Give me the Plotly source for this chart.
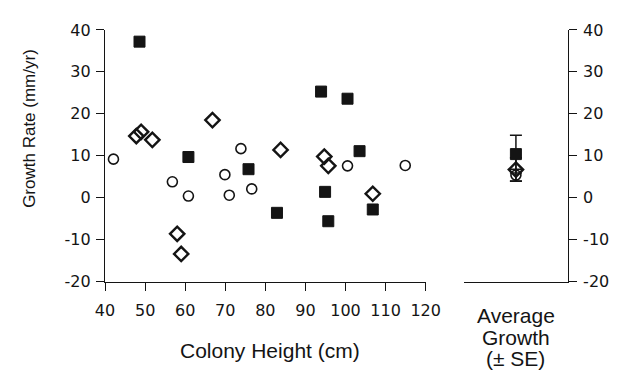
import plotly.graph_objects as go

# Data
sq_x = [48.6, 60.8, 75.8, 93.9, 82.9, 94.9, 95.7, 100.5, 103.5, 106.8]
sq_y = [37.2, 9.7, 6.8, 25.3, -3.6, 1.4, -5.6, 23.6, 11.1, -2.8]

di_x = [47.8, 49.0, 51.8, 66.8, 58.0, 59.0, 83.8, 94.7, 95.7, 106.8]
di_y = [14.7, 15.7, 13.8, 18.5, -8.6, -13.4, 11.4, 9.8, 7.6, 0.95]

ci_x = [42.1, 56.8, 60.8, 73.9, 69.9, 71.0, 76.6, 100.5, 114.9]
ci_y = [9.2, 3.8, 0.4, 11.7, 5.5, 0.6, 2.1, 7.6, 7.7]

avg_groups = ["circle", "diamond", "square"]
avg_mean = [5.4, 6.7, 10.4]
avg_se = [1.4, 2.8, 4.5]

x_ticks = [40, 50, 60, 70, 80, 90, 100, 110, 120]
y_ticks = [-20, -10, 0, 10, 20, 30, 40]
y_ticktext = ["-20", "-10", "0", "10", "20", "30", "40"]

INK = "#141414"
FONT = "Liberation Sans, Arial, sans-serif"
TICKFONT = "DejaVu Sans, sans-serif"
W, H = 625, 380

fig = go.Figure()

sym = {"circle": ("circle-open", 10, 1.6), "diamond": ("diamond-open", 11, 2.4), "square": ("square", 11, 1)}

for xs, ys, g in [(ci_x, ci_y, "circle"), (di_x, di_y, "diamond"), (sq_x, sq_y, "square")]:
    symbol, size, lw = sym[g]
    fig.add_trace(go.Scatter(x=xs, y=ys, mode="markers",
                             marker=dict(symbol=symbol, size=size, color=INK, line=dict(width=lw, color=INK)),
                             cliponaxis=False, showlegend=False))

for g, m, s in zip(avg_groups, avg_mean, avg_se):
    symbol, size, lw = sym[g]
    fig.add_trace(go.Scatter(x=[0.5], y=[m], mode="markers", xaxis="x2", yaxis="y2",
                             marker=dict(symbol=symbol, size=size, color=INK, line=dict(width=lw, color=INK)),
                             error_y=dict(type="data", array=[s], color=INK, thickness=1.5, width=6),
                             cliponaxis=False, showlegend=False))

x0, x1 = 99 / W, 433 / W
y0, y1 = 1 - 287 / H, 1 - 22 / H
axis_common = dict(showline=True, linecolor=INK, linewidth=1.3, ticks="outside", ticklen=8,
                   tickwidth=1.3, tickcolor=INK, showgrid=False, zeroline=False,
                   tickfont=dict(family=TICKFONT, size=16, color=INK))

fig.update_layout(
    width=W, height=H, margin=dict(l=0, r=0, t=0, b=0),
    paper_bgcolor="white", plot_bgcolor="white",
    xaxis=dict(domain=[x0, x1], range=[40, 120], tickvals=x_ticks, anchor="y",
               ticklabelstandoff=6, **axis_common),
    yaxis=dict(domain=[y0, y1], range=[-20, 40], tickvals=y_ticks, ticktext=y_ticktext, anchor="x",
               ticklabelstandoff=2, **axis_common),
    xaxis2=dict(domain=[473 / W, 581 / W], range=[0, 1], anchor="y2", showline=True, linecolor=INK,
                linewidth=1.3, showticklabels=False, ticks="", showgrid=False, zeroline=False),
    yaxis2=dict(domain=[y0, y1], range=[-20, 40], tickvals=y_ticks, ticktext=y_ticktext, anchor="x2",
                side="right", ticklabelstandoff=3, **axis_common),
    annotations=[
        dict(text="Growth Rate (mm/yr)", x=21 / W, y=1 - 126 / H, xref="paper", yref="paper",
             textangle=-90, showarrow=False, xanchor="center", yanchor="middle",
             font=dict(family=FONT, size=17, color=INK)),
        dict(text="Colony Height (cm)", x=271 / W, y=1 - 359 / H, xref="paper", yref="paper",
             showarrow=False, xanchor="center", yanchor="middle",
             font=dict(family=FONT, size=21, color=INK)),
        dict(text="Average", x=527 / W, y=1 - 323 / H, xref="paper", yref="paper",
             showarrow=False, xanchor="center", yanchor="middle",
             font=dict(family=FONT, size=21, color=INK)),
        dict(text="Growth", x=527 / W, y=1 - 346 / H, xref="paper", yref="paper",
             showarrow=False, xanchor="center", yanchor="middle",
             font=dict(family=FONT, size=21, color=INK)),
        dict(text="(± SE)", x=527 / W, y=1 - 368 / H, xref="paper", yref="paper",
             showarrow=False, xanchor="center", yanchor="middle",
             font=dict(family=FONT, size=21, color=INK)),
    ],
)

fig.write_html("out.html")
